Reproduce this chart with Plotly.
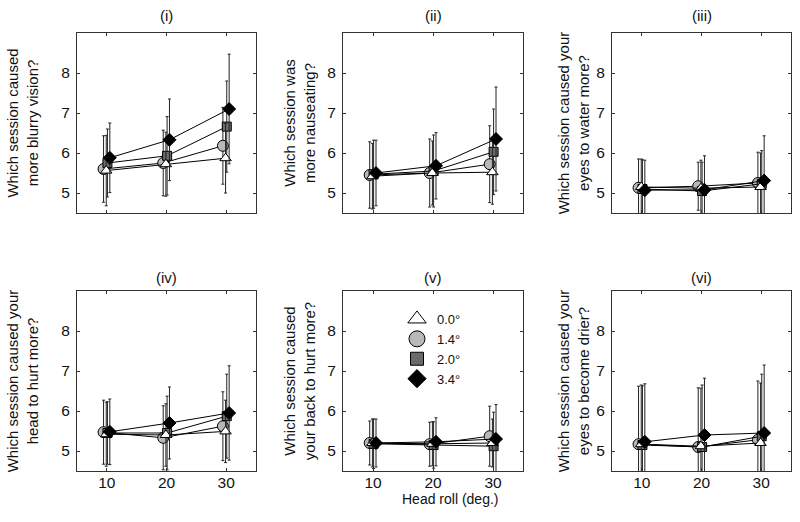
import plotly.graph_objects as go

# ---------------- data ----------------
head_roll = [10, 20, 30]
x_tick_vals = [10, 20, 30]
y_tick_vals = [5, 6, 7, 8]
angle_labels = ["0.0°", "1.4°", "2.0°", "3.4°"]

panel_titles = ["(i)", "(ii)", "(iii)", "(iv)", "(v)", "(vi)"]
y_titles = [
    "Which session caused<br>more blurry vision?",
    "Which session was<br>more nauseating?",
    "Which session caused your<br>eyes to water more?",
    "Which session caused your<br>head to hurt more?",
    "Which session caused<br>your back to hurt more?",
    "Which session caused your<br>eyes to become drier?",
]
x_title = "Head roll (deg.)"

# means per angle (0.0, 1.4, 2.0, 3.4) at head roll 10, 20, 30
blurry_mean = [[5.56, 5.72, 5.87], [5.60, 5.75, 6.18], [5.75, 5.93, 6.66], [5.88, 6.33, 7.10]]
blurry_err = [[0.88, 0.80, 0.87], [0.83, 0.82, 0.96], [0.85, 0.98, 1.14], [0.87, 1.02, 1.37]]

nausea_mean = [[5.42, 5.50, 5.52], [5.45, 5.50, 5.72], [5.47, 5.55, 6.03], [5.50, 5.68, 6.35]]
nausea_err = [[0.82, 0.80, 0.80], [0.83, 0.85, 0.96], [0.85, 0.90, 1.07], [0.82, 0.83, 1.30]]

water_mean = [[5.15, 5.12, 5.15], [5.13, 5.17, 5.25], [5.10, 5.05, 5.23], [5.07, 5.08, 5.31]]
water_err = [[0.70, 0.70, 0.85], [0.72, 0.60, 0.77], [0.73, 0.72, 0.83], [0.75, 0.85, 1.12]]

head_mean = [[5.42, 5.40, 5.49], [5.47, 5.33, 5.62], [5.45, 5.45, 5.87], [5.48, 5.70, 5.95]]
head_err = [[0.80, 0.78, 0.78], [0.80, 0.80, 0.86], [0.78, 0.92, 1.05], [0.82, 0.90, 1.18]]

back_mean = [[5.20, 5.18, 5.20], [5.20, 5.17, 5.37], [5.18, 5.15, 5.12], [5.20, 5.23, 5.30]]
back_err = [[0.60, 0.55, 0.60], [0.55, 0.55, 0.75], [0.62, 0.58, 0.85], [0.60, 0.60, 0.86]]

dry_mean = [[5.17, 5.12, 5.20], [5.17, 5.10, 5.28], [5.15, 5.10, 5.37], [5.23, 5.40, 5.45]]
dry_err = [[1.48, 1.45, 1.50], [1.45, 1.48, 1.47], [1.48, 1.55, 1.55], [1.45, 1.42, 1.70]]

panels_mean = [blurry_mean, nausea_mean, water_mean, head_mean, back_mean, dry_mean]
panels_err = [blurry_err, nausea_err, water_err, head_err, back_err, dry_err]

# ---------------- style ----------------
W, H = 800, 522
FONT = "Liberation Sans, Arial, Helvetica, sans-serif"
symbols = ["triangle-up", "circle", "square", "diamond"]
fills = ["#ffffff", "#b8b8b8", "#6a6a6a", "#000000"]
marker_sizes = [10, 11, 9, 10]
legend_sizes = [16, 16, 13, 14]
x_offsets = [-0.1, -0.55, 0.1, 0.5]
draw_order = [1, 2, 0, 3]

col_px = [(77, 256), (343, 523), (612, 791)]
row_px = [(33, 213), (291, 471)]
title_gap = [18, 14]
y_standoffs = [19, 8, 3, 19, 8, 3]

fig = go.Figure()

for p in range(6):
    r, c = divmod(p, 3)
    ax = "" if p == 0 else str(p + 1)
    xa, ya = "x" + ax, "y" + ax
    for k in draw_order:
        fig.add_trace(go.Scatter(
            x=[v + x_offsets[k] for v in head_roll],
            y=panels_mean[p][k],
            mode="lines+markers",
            line=dict(color="#000000", width=1),
            marker=dict(symbol=symbols[k], size=marker_sizes[k], color=fills[k],
                        line=dict(color="#000000", width=1)),
            error_y=dict(type="data", array=panels_err[p][k], visible=True,
                         color="#222222", thickness=1, width=1.5),
            showlegend=False,
            xaxis=xa, yaxis=ya,
        ))
    x0, x1 = col_px[c]
    y0, y1 = row_px[r]
    common = dict(showline=True, linecolor="#333333", linewidth=1, mirror="ticks",
                  ticks="inside", ticklen=3, tickcolor="#333333", tickwidth=1,
                  showgrid=False, zeroline=False,
                  tickfont=dict(family=FONT, size=15.5, color="#111111"))
    fig.layout["xaxis" + ax] = dict(
        domain=[x0 / W, x1 / W], range=[5, 35], tickvals=x_tick_vals,
        showticklabels=(r == 1), anchor=ya, ticklabelstandoff=-3, **common)
    fig.layout["yaxis" + ax] = dict(
        domain=[1 - y1 / H, 1 - y0 / H], range=[4.5, 9], tickvals=y_tick_vals,
        anchor=xa, ticklabelstandoff=3,
        title=dict(text=y_titles[p], standoff=y_standoffs[p],
                   font=dict(family=FONT, size=15, color="#111111")),
        **common)
    fig.add_annotation(x=(x0 + x1) / 2 / W, y=1 - (y0 - title_gap[r]) / H,
                       xref="paper", yref="paper",
                       text=panel_titles[p], showarrow=False,
                       font=dict(family=FONT, size=15, color="#111111"),
                       xanchor="center", yanchor="middle")

# legend entries (shown inside panel v)
for k in range(4):
    fig.add_trace(go.Scatter(
        x=[None], y=[None], mode="markers", name=angle_labels[k],
        marker=dict(symbol=symbols[k], size=legend_sizes[k], color=fills[k],
                    line=dict(color="#000000", width=1)),
        showlegend=True, xaxis="x5", yaxis="y5",
    ))

fig.add_annotation(x=450 / W, y=1 - 499 / H, xref="paper", yref="paper",
                   text=x_title, showarrow=False,
                   font=dict(family=FONT, size=14, color="#111111"),
                   xanchor="center", yanchor="middle")

fig.update_layout(
    width=W, height=H,
    margin=dict(l=0, r=0, t=0, b=0),
    paper_bgcolor="white", plot_bgcolor="white",
    font=dict(family=FONT, color="#111111"),
    legend=dict(x=397 / W, y=1 - 304 / H, xanchor="left", yanchor="top",
                bgcolor="rgba(0,0,0,0)", borderwidth=0,
                font=dict(family=FONT, size=13, color="#111111"),
                itemsizing="trace", tracegroupgap=0),
)

fig.write_html("out.html",
               config={"displayModeBar": False},
               post_script="document.body.style.margin='0';document.body.style.overflow='hidden';")
